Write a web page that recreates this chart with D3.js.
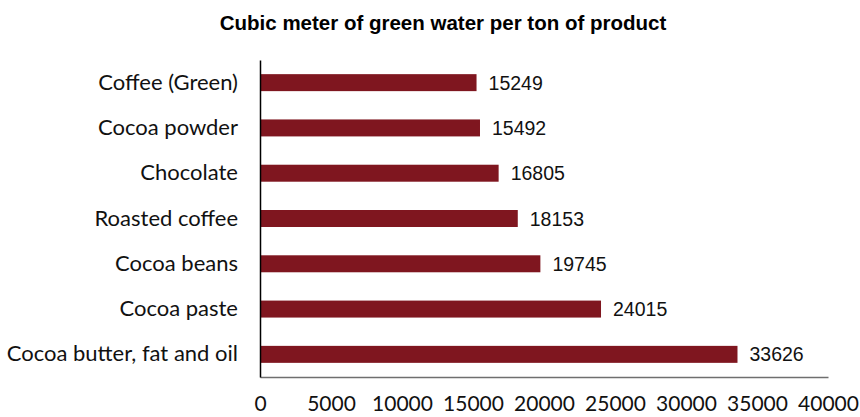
<!DOCTYPE html>
<html>
<head>
    <meta charset='utf-8'>
    <title>Green water per ton</title>
    <style>
        body { margin: 0; background: #fff; }
    </style>
</head>
<body>
<svg width="860" height="417"></svg>
<script src="https://d3js.org/d3.v7.min.js"></script>
<script>
    const categories = ["Coffee (Green)", "Cocoa powder", "Chocolate", "Roasted coffee",
        "Cocoa beans", "Cocoa paste", "Cocoa butter, fat and oil"]
    const values = [15249, 15492, 16805, 18153, 19745, 24015, 33626]
    const tickValues = [0, 5000, 10000, 15000, 20000, 25000, 30000, 35000, 40000]

    const data = categories.map((name, i) => ({name, value: values[i]}))

    const margin = ({top: 60, left: 260, right: 32, bottom: 40})
    const width = 860
    const height = 417

    const svg = d3.select("svg")

    const x = d3.scaleLinear()
        .domain([0, 40000])
        .range([margin.left, width - margin.right])

    const y = d3.scaleBand()
        .domain(categories)
        .range([margin.top, height - margin.bottom])
        .paddingInner(0.625)
        .paddingOuter(0.3125)

    svg.append("text")
        .attr("x", 443)
        .attr("y", 30)
        .attr("text-anchor", "middle")
        .attr("font-family", "Liberation Sans, Arial, sans-serif")
        .attr("font-weight", "bold")
        .attr("font-size", 20.5)
        .text("Cubic meter of green water per ton of product")

    svg.append("g")
        .attr("fill", "#7f161f")
        .selectAll("rect")
        .data(data)
        .join("rect")
        .attr("x", x(0))
        .attr("y", d => y(d.name))
        .attr("width", d => x(d.value) - x(0))
        .attr("height", y.bandwidth())

    svg.append("g")
        .attr("font-family", "Liberation Sans, Arial, sans-serif")
        .attr("font-size", 19.5)
        .attr("fill", "#111")
        .selectAll("text")
        .data(data)
        .join("text")
        .attr("x", d => x(d.value))
        .attr("dx", 12)
        .attr("y", d => y(d.name) + y.bandwidth() / 2)
        .attr("dy", "0.36em")
        .text(d => d.value)

    // x axis: line only, labels below
    const xAxis = svg.append("g")
        .attr("transform", `translate(0,${height - margin.bottom})`)
        .call(d3.axisBottom(x).tickValues(tickValues).tickSize(0).tickPadding(19).tickFormat(d3.format("d")))
    xAxis.select(".domain").attr("stroke", "#6f6f6f").attr("stroke-width", 1.5)
    xAxis.selectAll("text")
        .attr("font-family", "Lato, sans-serif")
        .attr("font-size", 21)
        .attr("fill", "#111")

    const yAxis = svg.append("g")
        .attr("transform", `translate(${margin.left},0)`)
        .call(d3.axisLeft(y).tickSize(0).tickPadding(22))
    yAxis.select(".domain").attr("stroke", "#000").attr("stroke-width", 1.5)
    yAxis.selectAll("text")
        .attr("font-family", "Lato, sans-serif")
        .attr("font-size", 22)
        .attr("fill", "#111")
</script>
</body>
</html>
